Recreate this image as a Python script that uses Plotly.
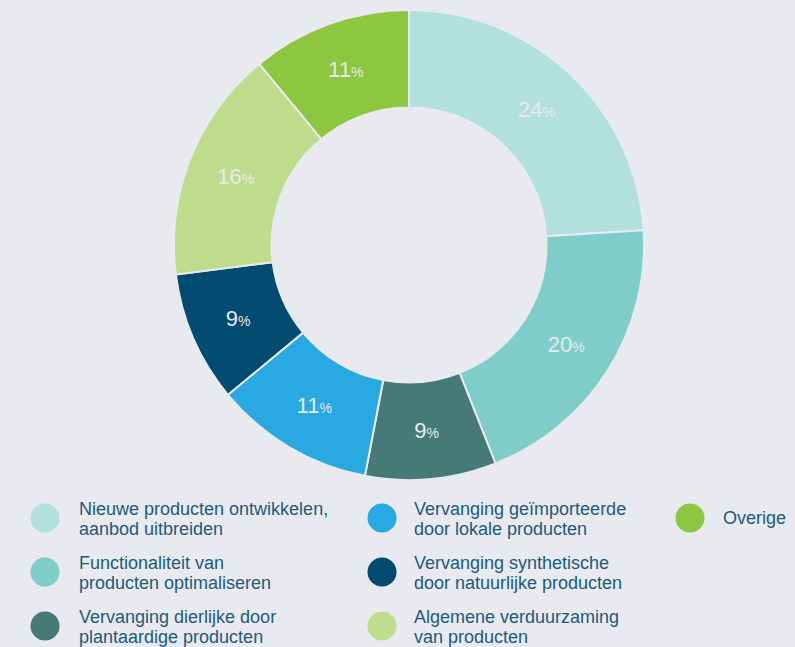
import plotly.graph_objects as go

categories = [
    "Nieuwe producten ontwikkelen,<br>aanbod uitbreiden",
    "Functionaliteit van<br>producten optimaliseren",
    "Vervanging dierlijke door<br>plantaardige producten",
    "Vervanging geïmporteerde<br>door lokale producten",
    "Vervanging synthetische<br>door natuurlijke producten",
    "Algemene verduurzaming<br>van producten",
    "Overige",
]
values = [24, 20, 9, 11, 9, 16, 11]
colors = ["#b2e0dc", "#7ecdc9", "#467a77", "#29a9e1", "#004b6f", "#bddc8c", "#8dc63f"]

# legend layout: column index and row index for each category
legend_col = [0, 0, 0, 1, 1, 1, 2]
legend_row = [0, 1, 2, 0, 1, 2, 0]

W, H = 795, 647
BG = "#e9eaef"
TXT = "#1d5a7e"
FONT = "Liberation Sans, Arial, sans-serif"

cx, cy, R = 409, 245, 235

fig = go.Figure()
fig.add_trace(go.Pie(
    labels=[c.replace("<br>", " ") for c in categories],
    values=values,
    sort=False,
    direction="clockwise",
    rotation=0,
    hole=0.585,
    marker=dict(colors=colors, line=dict(color=BG, width=2)),
    texttemplate="%{value}<span style='font-size:14px'>%</span>",
    textposition="inside",
    insidetextorientation="horizontal",
    textfont=dict(family=FONT, size=22, color="#e8eaee"),
    hoverinfo="label+percent",
    showlegend=False,
    domain=dict(x=[(cx - R) / W, (cx + R) / W], y=[1 - (cy + R) / H, 1 - (cy - R) / H]),
))

circle_x = [45, 382, 690]
text_x = [77, 412, 721]
row_y = [518, 572, 626]
r = 14.5

shapes = []
annotations = []
for i, cat in enumerate(categories):
    c = legend_col[i]
    rw = legend_row[i]
    x0 = circle_x[c]
    y0 = row_y[rw]
    shapes.append(dict(
        type="circle", xref="paper", yref="paper",
        x0=(x0 - r) / W, x1=(x0 + r) / W,
        y0=1 - (y0 + r) / H, y1=1 - (y0 - r) / H,
        fillcolor=colors[i], line=dict(width=0),
    ))
    lines = cat.split("<br>")
    if len(lines) == 1:
        centers = [y0]
    else:
        centers = [y0 - 9.5, y0 + 10.5]
    for ln, yc in zip(lines, centers):
        annotations.append(dict(
            text=ln, xref="paper", yref="paper",
            x=text_x[c] / W, y=1 - yc / H,
            xanchor="left", yanchor="middle", showarrow=False,
            font=dict(family=FONT, size=18, color=TXT),
        ))

fig.update_layout(
    width=W, height=H,
    margin=dict(l=0, r=0, t=0, b=0),
    paper_bgcolor=BG, plot_bgcolor=BG,
    shapes=shapes, annotations=annotations,
)

fig.write_html("out.html")
